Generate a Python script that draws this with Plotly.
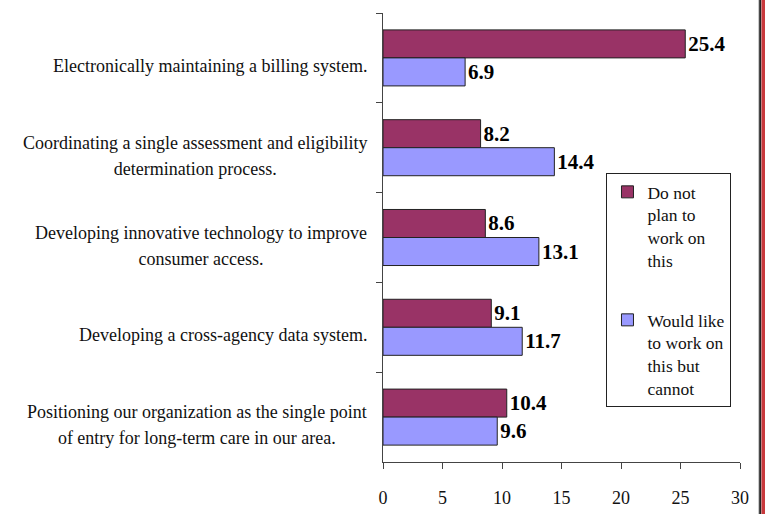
import plotly.graph_objects as go

# Survey categories (top to bottom) and the two answer series
categories = [
    "Electronically maintaining a billing system.",
    "Coordinating a single assessment and eligibility<br>determination process.",
    "Developing innovative technology to improve<br>consumer access.",
    "Developing a cross-agency data system.",
    "Positioning our organization as the single point<br>of entry for long-term care in our area.",
]
do_not_plan = [25.4, 8.2, 8.6, 9.1, 10.4]
would_like = [6.9, 14.4, 13.1, 11.7, 9.6]
series_names = ["Do not<br>plan to<br>work on<br>this", "Would like<br>to work on<br>this but<br>cannot"]
x_ticks = [0, 5, 10, 15, 20, 25, 30]

serif = "Liberation Serif"

fig = go.Figure()
for name, vals, color, grp in [(series_names[0], do_not_plan, "#993366", "a"),
                               (series_names[1], would_like, "#9999FF", "b")]:
    fig.add_trace(go.Bar(
        y=categories, x=vals, name=name, orientation="h",
        legendgroup=grp,
        marker=dict(color=color, line=dict(color="#222222", width=1)),
        text=[f"{v:.1f}" for v in vals], textposition="outside",
        textfont=dict(family=serif, size=21, color="black", weight="bold"),
        cliponaxis=False,
    ))

# category labels as annotations so wrapped lines are centred like the original
for cat in categories:
    lines = cat.split("<br>")
    txt = "<br>".join(f"<span style='font-size:18px'>{l}</span>" for l in lines)
    fig.add_annotation(
        x=-0.039, xref="paper", y=cat, yref="y", text=txt,
        xanchor="right", align="center", showarrow=False, yshift=-8,
        font=dict(family=serif, size=20, color="#111111"),
    )

# red frame edge at the right of the picture
fig.add_shape(type="line", xref="paper", yref="paper", x0=1.0532, x1=1.0532,
              y0=-0.2, y1=1.1, line=dict(color="#999999", width=1))
fig.add_shape(type="line", xref="paper", yref="paper", x0=1.0567, x1=1.0567,
              y0=-0.2, y1=1.1, line=dict(color="#222222", width=2))
fig.add_shape(type="rect", xref="paper", yref="paper", x0=1.0602, x1=1.09,
              y0=-0.2, y1=1.1, line=dict(width=0), fillcolor="#C8393C")

fig.update_layout(
    width=765, height=514,
    margin=dict(l=383, r=25, t=13, b=52, autoexpand=False),
    paper_bgcolor="white", plot_bgcolor="white",
    barmode="group", bargap=0.376, bargroupgap=0,
    font=dict(family=serif, color="black"),
    showlegend=True,
    legend=dict(
        x=0.626, y=0.6437, xanchor="left", yanchor="top",
        bordercolor="#222222", borderwidth=1, bgcolor="white",
        font=dict(family=serif, size=17.5, color="#111111"),
        valign="top", traceorder="grouped", tracegroupgap=34,
        itemwidth=30,
    ),
    xaxis=dict(
        range=[0, 30], tickvals=x_ticks, ticks="outside", ticklen=6,
        tickcolor="#444444", showline=True, linecolor="#444444", linewidth=1,
        showgrid=False, zeroline=False, ticklabelstandoff=13, automargin=False,
        tickfont=dict(family=serif, size=18, color="#111111"),
    ),
    yaxis=dict(
        autorange="reversed", showticklabels=False, ticks="outside",
        ticklen=6, tickcolor="#444444", tickson="boundaries", automargin=False,
        showline=True, linecolor="#444444", linewidth=1, showgrid=False,
    ),
)

fig.write_html("out.html", config={"displayModeBar": False},
               post_script="document.body.style.margin='0';")
